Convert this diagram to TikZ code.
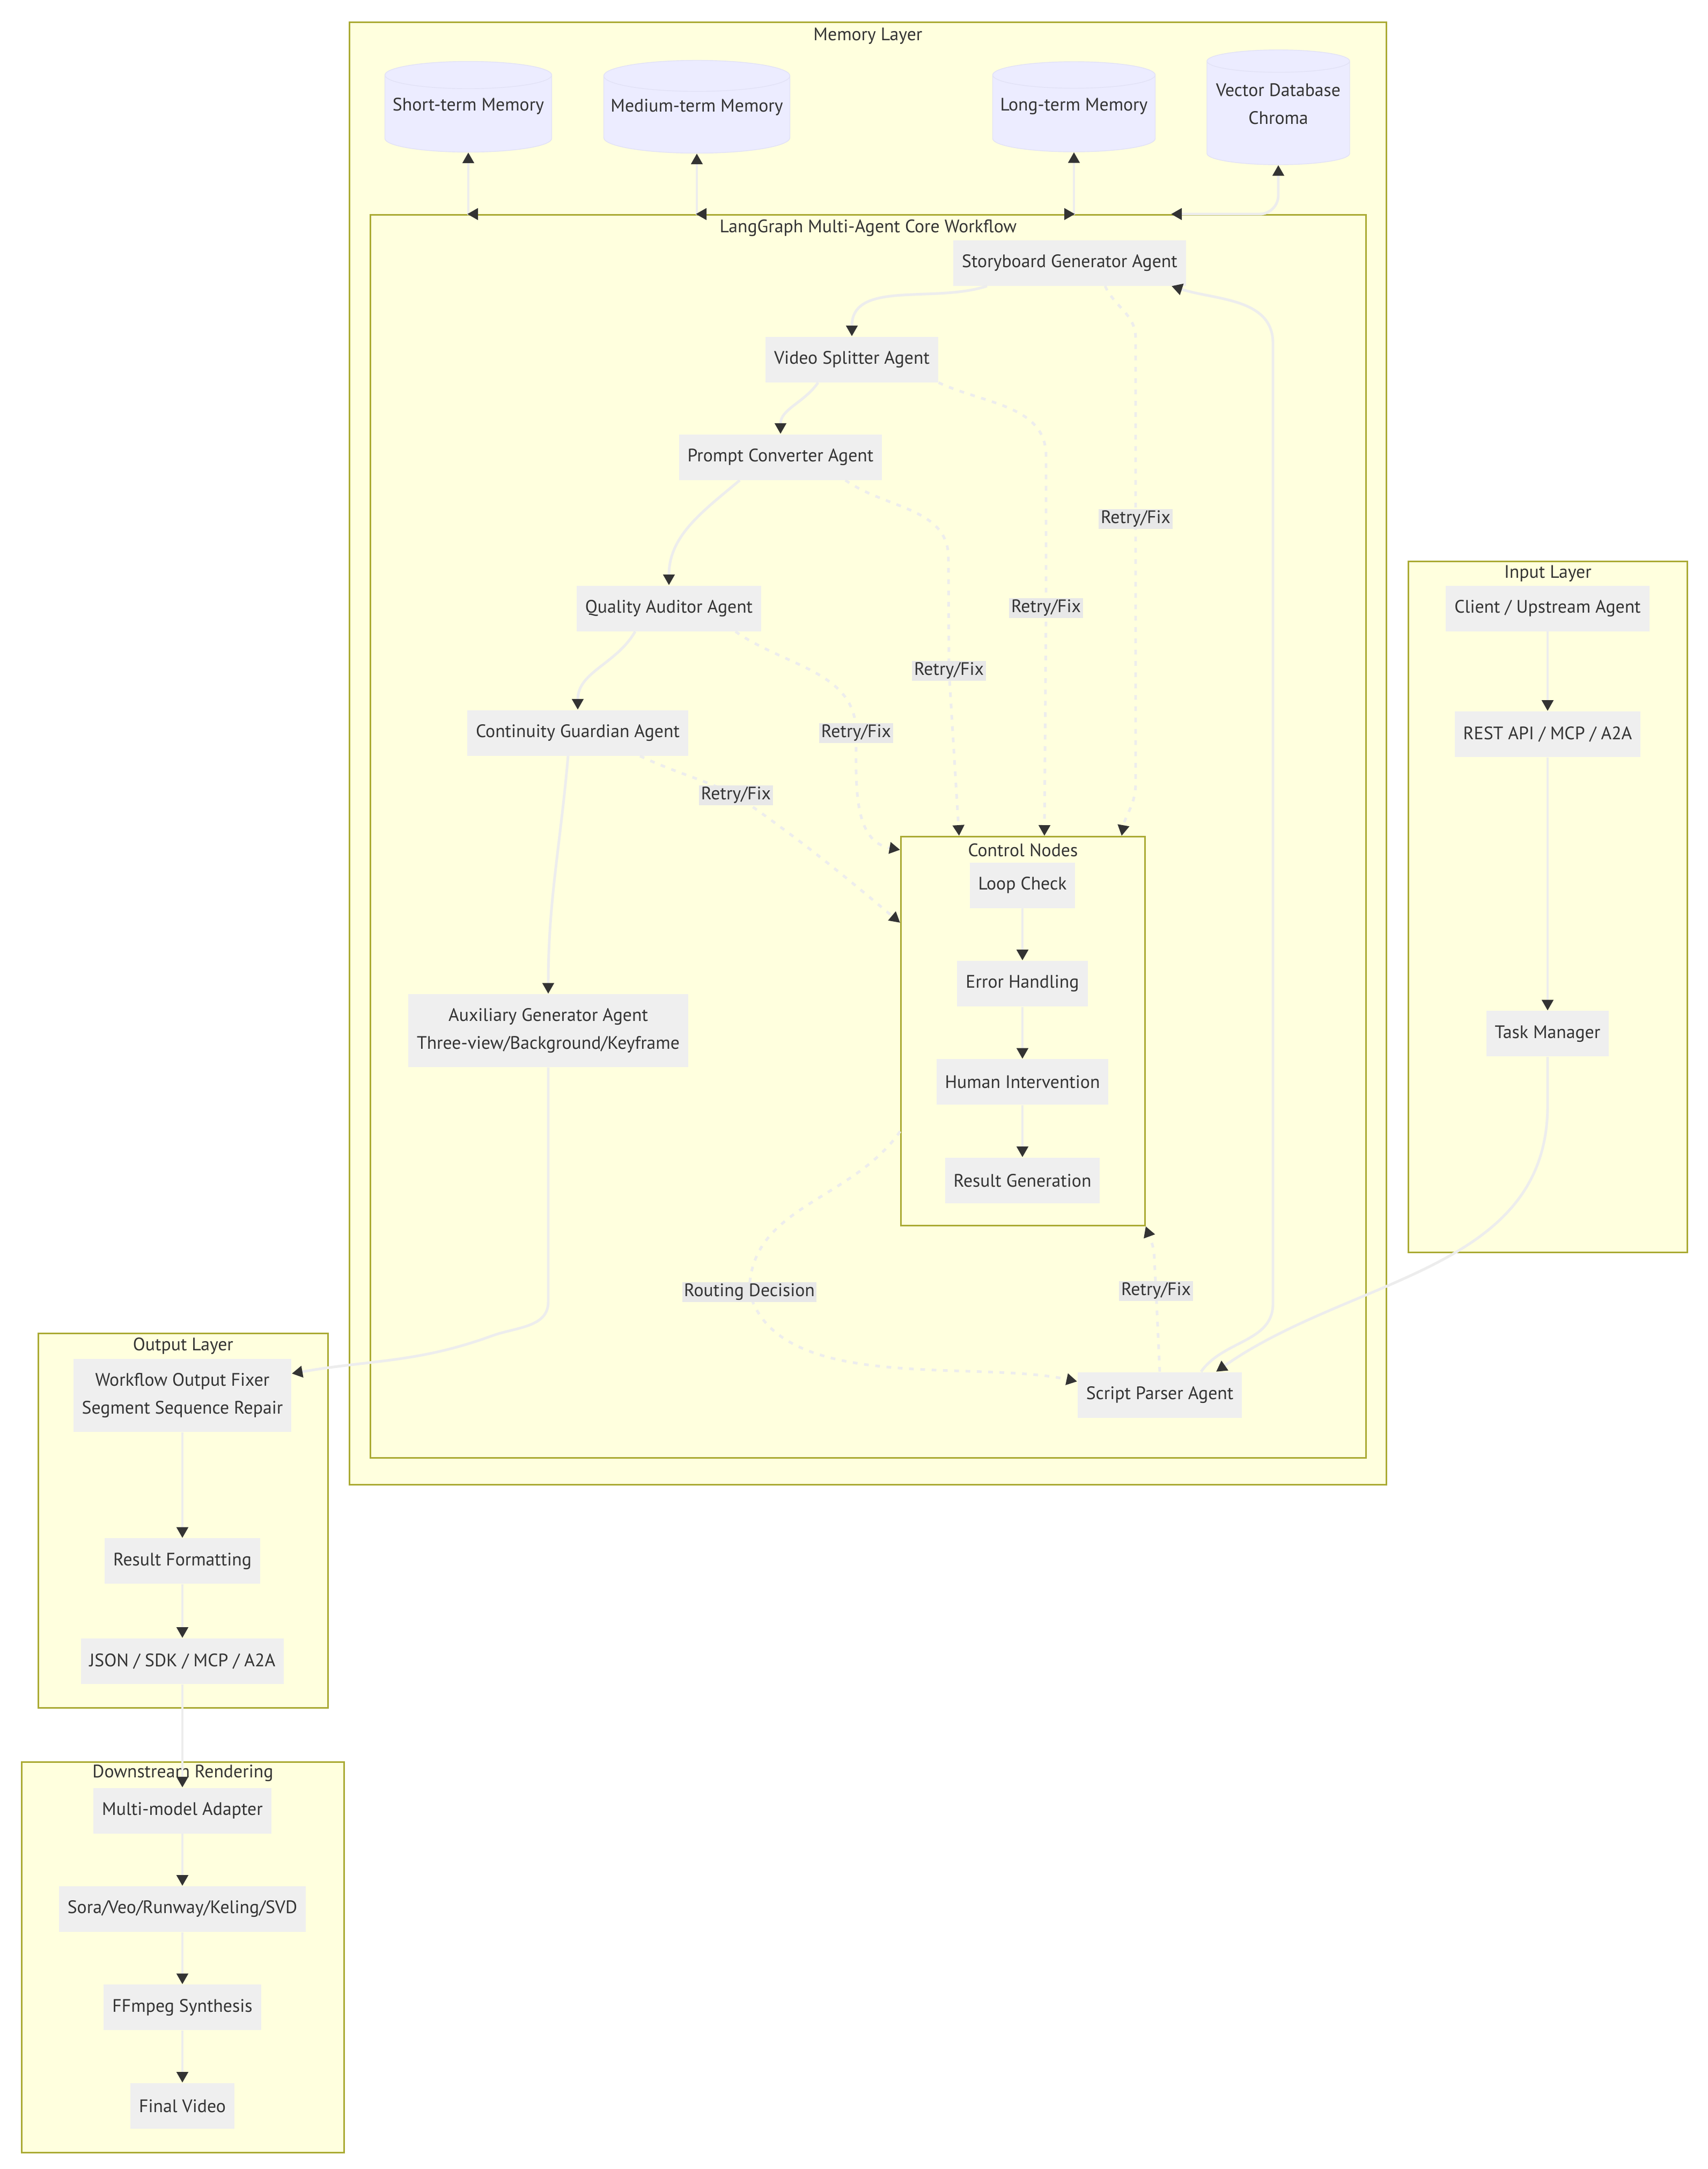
\documentclass[tikz,border=0pt]{standalone}
\usepackage{fontspec}
\setmainfont{PT Sans}
\usepackage{xcolor}
\usepackage{tikz}
\usetikzlibrary{positioning,arrows.meta,shapes.geometric}

\definecolor{layerfill}{HTML}{FFFFDE}
\definecolor{layerline}{HTML}{AAAA33}
\definecolor{boxfill}{HTML}{EFEFEF}
\definecolor{memfill}{HTML}{ECECFF}
\definecolor{memline}{HTML}{E2E2F6}
\definecolor{edgeline}{HTML}{EDEDED}
\definecolor{tipcol}{HTML}{333333}
\definecolor{inkcol}{HTML}{333333}
\definecolor{lblfill}{HTML}{E8E8E8}

\begin{document}
\begin{tikzpicture}[font=\fontsize{9.6}{14.7}\selectfont, text=inkcol, node distance=0.97cm,
layer/.style={rectangle,draw=layerline,fill=layerfill,line width=0.8pt,
anchor=north west,inner sep=0pt},
layertitle/.style={inner sep=0pt},
agent/.style={rectangle,fill=boxfill,inner xsep=0.16cm,inner ysep=0pt,
minimum height=0.85cm,align=center},
twoline/.style={agent,minimum height=1.36cm},
database/.style={cylinder,shape border rotate=90,aspect=0.18,draw=memline,
fill=memfill,inner sep=0pt,align=center,anchor=shape center,text depth=0.35cm},
flow/.style={draw=edgeline,line width=1.4pt,
-{Triangle[length=0.2cm,width=0.21cm,color=tipcol]}},
retry/.style={flow,dash pattern=on 2.5pt off 3.5pt},
memlink/.style={draw=edgeline,line width=1.4pt,
{Triangle[length=0.2cm,width=0.21cm,color=tipcol]}-{Triangle[length=0.2cm,width=0.21cm,color=tipcol]}},
lbl/.style={rectangle,fill=lblfill,inner xsep=1pt,inner ysep=0pt,minimum height=0.37cm}]

\fill[white] (0,0) rectangle (31.84,-40.43);
\useasboundingbox (0,0) rectangle (31.84,-40.43);

\node[layer,minimum width=19.33cm,minimum height=27.26cm] (memory) at (6.50,-0.40) {};
\node[layertitle] at ([yshift=-0.27cm]memory.north) {Memory Layer};
\node[layer,minimum width=18.56cm,minimum height=23.17cm] (core) at (6.89,-3.99) {};
\node[layertitle] at ([yshift=-0.26cm]core.north) {LangGraph Multi-Agent Core Workflow};
\node[layer,minimum width=4.55cm,minimum height=7.25cm] (ctrl) at (16.78,-15.58) {};
\node[layertitle] at ([yshift=-0.27cm]ctrl.north) {Control Nodes};
\node[layer,minimum width=5.20cm,minimum height=12.88cm] (input) at (26.24,-10.45) {};
\node[layertitle] at ([yshift=-0.24cm]input.north) {Input Layer};
\node[layer,minimum width=5.40cm,minimum height=6.98cm] (output) at (0.70,-24.84) {};
\node[layertitle] at ([yshift=-0.25cm]output.north) {Output Layer};
\node[layer,minimum width=6.01cm,minimum height=7.28cm] (downstream) at (0.39,-32.83) {};
\node[layertitle] at ([yshift=-0.22cm]downstream.north) {Downstream Rendering};

\node[database,minimum width=3.11cm,minimum height=1.69cm] (short memory) at (8.73,-1.99) {Short-term Memory};
\node[database,minimum width=3.47cm,minimum height=1.73cm] (medium memory) at (12.99,-1.99) {Medium-term Memory};
\node[database,minimum width=3.03cm,minimum height=1.68cm] (long memory) at (20.02,-1.99) {Long-term Memory};
\node[database,minimum width=2.66cm,minimum height=2.14cm] (vector db) at (23.83,-2.00) {Vector Database\\Chroma};

\node[agent] (storyboard) at (19.94,-4.90) {Storyboard Generator Agent};
\node[agent] (splitter) at (15.88,-6.70) {Video Splitter Agent};
\node[agent] (prompt) at (14.55,-8.52) {Prompt Converter Agent};
\node[agent] (auditor) at (12.47,-11.34) {Quality Auditor Agent};
\node[agent] (guardian) at (10.77,-13.66) {Continuity Guardian Agent};
\node[twoline] (auxiliary) at (10.22,-19.21) {Auxiliary Generator Agent\\Three-view/Background/Keyframe};
\node[agent] (parser) at (21.62,-26.00) {Script Parser Agent};

\node[agent] (loop check) at (19.06,-16.50) {Loop Check};
\node[agent] (error handling) [below=of loop check] {Error Handling};
\node[agent] (human) [below=of error handling] {Human Intervention};
\node[agent] (result gen) [below=of human] {Result Generation};

\node[agent] (client) at (28.85,-11.34) {Client / Upstream Agent};
\node[agent] (rest api) [below=1.48cm of client] {REST API / MCP / A2A};
\node[agent] (task manager) [below=4.72cm of rest api] {Task Manager};

\node[twoline] (fixer) at (3.40,-26.01) {Workflow Output Fixer\\Segment Sequence Repair};
\node[agent] (formatting) [below=1.97cm of fixer] {Result Formatting};
\node[agent] (formats) [below=1.0cm of formatting] {JSON / SDK / MCP / A2A};

\node[agent] (adapter) at (3.40,-33.75) {Multi-model Adapter};
\node[agent] (models) [below=of adapter] {Sora/Veo/Runway/Keling/SVD};
\node[agent] (ffmpeg) [below=of models] {FFmpeg Synthesis};
\node[agent] (final video) [below=of ffmpeg] {Final Video};

\draw[memlink] (short memory.south) -- (short memory.south |- core.north) -- +(-0.02,0);
\draw[memlink] (medium memory.south) -- (medium memory.south |- core.north) -- +(-0.02,0);
\draw[memlink] (long memory.south) -- (long memory.south |- core.north) -- +(0.02,0);
\draw[memlink,rounded corners=0.35cm] (vector db.south) |- ([xshift=-2.0cm]vector db.south |- core.north);

\draw[flow] ([xshift=-1.54cm]storyboard.south) to[out=198,in=90] (splitter.north);
\draw[flow] ([xshift=-0.63cm]splitter.south) to[out=235,in=90] (prompt.north);
\draw[flow] ([xshift=-0.76cm]prompt.south) to[out=220,in=90] (auditor.north);
\draw[flow] ([xshift=-0.63cm]auditor.south) to[out=240,in=90] (guardian.north);
\draw[flow] ([xshift=-0.18cm]guardian.south) to[out=265,in=90] (auxiliary.north);
\draw[flow] (auxiliary.south) -- ([yshift=-4.37cm]auxiliary.south) to[out=-90,in=20] (9.17,-24.90) to[out=200,in=10] ([yshift=-0.28cm]fixer.north east);
\draw[flow] (task manager.south) -- ([yshift=-0.9cm]task manager.south) to[out=-90,in=35] ([xshift=1.05cm]parser.north);
\draw[flow] ([xshift=0.77cm]parser.north) to[out=55,in=-90] (23.73,-24.3) -- (23.73,-6.4) to[out=90,in=-18] ([xshift=1.9cm]storyboard.south);

\draw[retry] ([xshift=0.66cm]storyboard.south) to[out=-65,in=90] (21.17,-6.3) -- (21.17,-9.67) node[lbl] {Retry/Fix} -- (21.17,-14.6) to[out=-90,in=80] ([xshift=1.84cm]ctrl.north);
\draw[retry] (splitter.south east) to[out=-25,in=90] (19.50,-8.5) -- (19.50,-11.33) node[lbl] {Retry/Fix} -- ([xshift=0.40cm]ctrl.north);
\draw[retry] ([xshift=1.21cm]prompt.south) to[out=-35,in=90] (17.68,-10.4) -- (17.69,-12.50) node[lbl] {Retry/Fix} -- ([xshift=-1.19cm]ctrl.north);
\draw[retry] ([xshift=1.24cm]auditor.south) to[out=-35,in=90] (15.96,-13.66) node[lbl] {Retry/Fix} to[out=-90,in=170] ([yshift=-0.26cm]ctrl.north west);
\draw[retry] ([xshift=1.16cm]guardian.south) to[out=-25,in=155] (13.72,-14.82) node[lbl] {Retry/Fix} to[out=-35,in=140] ([yshift=-1.62cm]ctrl.north west);
\draw[retry] ([yshift=-1.87cm]ctrl.west) to[out=235,in=90] (13.97,-24.08) node[lbl] {Routing Decision} to[out=-75,in=168,looseness=0.8] ([yshift=0.25cm]parser.west);
\draw[retry] (parser.north) -- (21.55,-24.06) node[lbl] {Retry/Fix} -- (21.52,-23.5) to[out=90,in=-70] (ctrl.south east);

\draw[flow] (loop check) -- (error handling);
\draw[flow] (error handling) -- (human);
\draw[flow] (human) -- (result gen);

\draw[flow] (client) -- (rest api);
\draw[flow] (rest api) -- (task manager);

\draw[flow] (fixer) -- (formatting);
\draw[flow] (formatting) -- (formats);
\draw[flow] (formats) -- (adapter);
\draw[flow] (adapter) -- (models);
\draw[flow] (models) -- (ffmpeg);
\draw[flow] (ffmpeg) -- (final video);
\end{tikzpicture}
\end{document}
